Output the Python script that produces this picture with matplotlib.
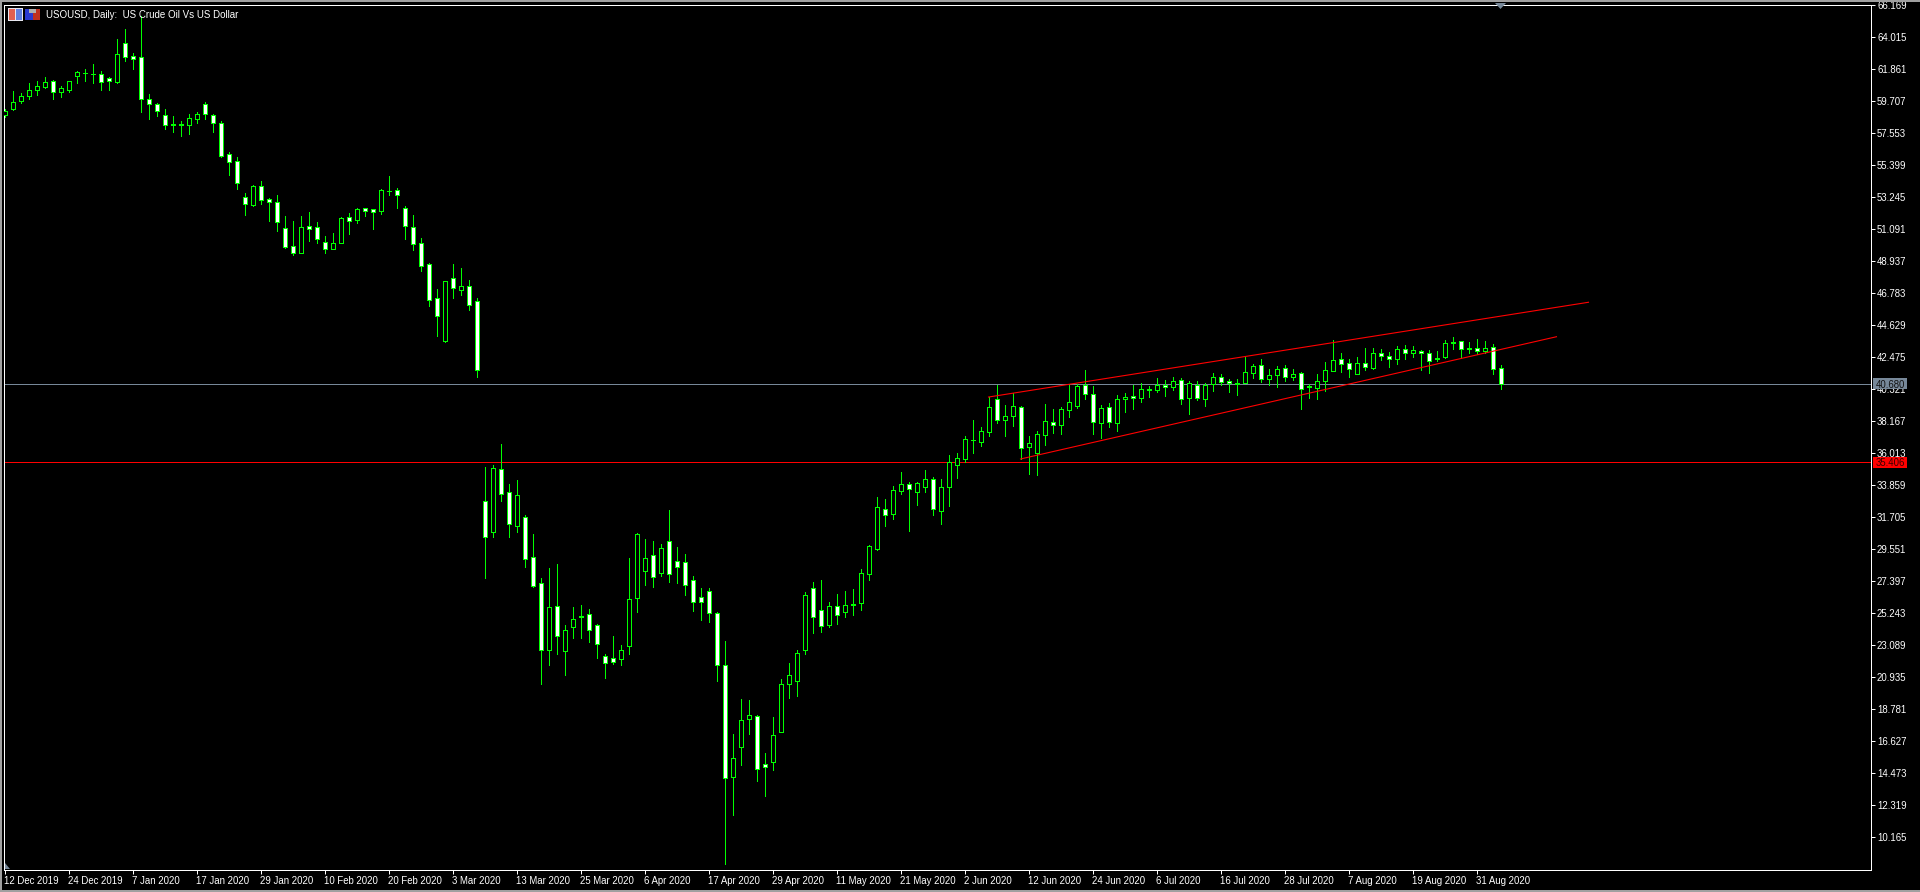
import matplotlib
matplotlib.use("Agg")
import matplotlib.pyplot as plt
from matplotlib.patches import Rectangle, Polygon
from matplotlib.transforms import IdentityTransform
import numpy as np

opens = [58.77,59.17,59.71,60.04,60.45,60.65,61.05,60.31,60.45,61.39,
61.59,61.52,61.52,61.26,60.99,63.61,62.74,62.67,59.84,59.51,
58.77,58.16,58.16,58.09,58.50,59.51,58.77,58.23,56.14,55.67,
53.25,52.71,53.99,53.11,52.91,51.16,49.95,49.48,51.29,51.23,
50.22,49.75,50.15,51.90,51.70,52.50,52.44,52.30,53.65,53.71,
52.50,51.23,50.15,48.73,46.45,43.55,47.79,46.99,47.25,46.25,
32.78,30.70,34.94,33.39,31.10,31.71,29.01,27.26,22.75,25.71,
22.69,24.30,25.04,25.18,24.44,22.35,22.21,22.15,23.02,26.25,
28.07,29.15,27.94,30.09,28.74,28.67,27.46,26.32,26.72,25.24,
21.74,14.20,16.22,18.11,18.31,15.08,15.21,17.23,20.46,20.66,
22.75,26.93,25.44,24.44,25.71,25.31,25.85,25.92,27.87,29.55,
32.24,31.91,33.46,33.93,33.39,33.72,34.26,32.11,33.72,35.21,
35.60,36.89,36.75,37.43,39.65,38.23,38.50,39.11,36.42,36.01,
37.22,38.10,37.90,38.91,39.18,40.59,39.98,38.03,39.11,38.03,
39.65,39.85,39.72,40.32,40.25,40.59,40.45,40.93,39.72,40.59,
39.65,40.66,41.13,40.86,40.73,40.73,41.40,41.94,40.99,41.26,
41.73,41.13,41.40,40.52,40.39,40.86,41.53,42.34,42.07,41.33,
42.07,41.73,42.74,42.54,42.34,43.01,42.74,42.88,42.74,42.41,
42.48,43.48,43.55,43.08,43.08,42.88,43.15,41.73]

highs = [59.17,60.38,60.25,60.92,61.05,61.32,61.12,60.72,61.05,61.73,
61.86,62.20,61.73,61.32,63.88,64.55,62.94,65.43,60.18,59.57,
59.17,58.70,58.36,58.83,58.97,59.64,58.83,58.36,56.27,55.94,
53.51,54.05,54.32,53.18,53.38,51.97,51.63,51.97,52.24,51.56,
50.62,50.82,51.90,52.17,52.50,52.50,52.44,53.78,54.66,53.85,
52.64,52.03,50.49,48.80,47.05,47.59,48.73,48.47,47.66,46.45,
35.07,35.21,36.62,33.93,34.20,31.84,30.56,27.60,28.27,28.54,
24.44,25.65,25.78,25.51,24.50,22.48,23.70,23.09,28.95,30.63,
30.23,30.09,29.89,32.18,29.69,29.21,27.73,26.93,26.93,25.31,
23.36,17.10,19.45,19.39,18.38,15.82,18.24,20.80,21.88,22.75,
26.66,27.33,27.46,25.98,26.52,26.72,26.86,28.20,29.82,33.05,
32.92,33.79,34.73,34.06,34.06,34.87,34.40,34.26,35.88,36.01,
37.16,38.23,37.76,39.78,40.59,39.24,40.05,39.18,37.16,37.49,
39.31,38.97,39.11,40.59,40.66,41.60,40.52,39.24,39.38,39.92,
40.05,40.59,40.73,40.52,41.06,40.93,41.13,41.06,40.86,40.86,
40.73,41.40,41.33,40.99,40.99,42.48,42.00,42.34,41.67,41.87,
41.94,41.67,41.47,40.66,41.33,42.14,43.62,42.74,42.34,42.48,
43.08,43.08,43.01,42.81,43.21,43.28,43.21,42.95,42.95,42.88,
43.62,43.82,43.55,43.48,43.69,43.55,43.35,41.94]

lows = [58.63,59.10,59.57,59.84,60.11,60.58,59.84,59.98,60.31,60.92,
61.05,60.92,60.45,60.45,60.92,62.40,61.86,58.97,58.50,58.70,
57.82,57.62,57.35,57.49,58.23,58.50,57.62,55.94,54.73,53.78,
52.03,52.64,52.77,51.63,50.96,49.81,49.34,49.48,50.28,50.15,
49.48,49.75,50.15,50.75,51.49,51.97,51.09,52.10,53.38,52.50,
50.42,49.68,48.26,45.91,43.89,43.48,46.45,46.65,45.64,41.13,
27.60,30.36,32.78,30.36,30.70,28.34,27.02,20.46,21.74,22.48,
21.07,23.56,23.56,23.29,22.21,20.87,21.81,21.74,22.48,25.31,
27.13,27.02,27.73,27.33,27.26,26.46,25.38,24.77,24.64,20.66,
8.35,11.65,15.01,17.10,13.93,12.92,14.67,17.23,19.52,19.66,
22.48,23.90,23.96,24.30,24.50,24.97,25.11,25.44,27.46,29.48,
31.10,31.57,33.25,30.76,32.51,33.39,31.84,31.23,32.45,34.33,
35.41,36.01,36.48,37.16,38.03,37.16,37.83,35.60,34.60,34.53,
36.55,37.36,37.29,38.44,39.04,39.65,37.29,37.02,37.76,37.49,
38.77,38.97,39.45,39.78,40.12,39.85,40.25,39.31,38.64,39.58,
39.18,40.19,40.59,40.12,39.92,40.73,41.06,40.79,40.59,40.46,
40.86,40.93,38.97,39.72,39.65,40.19,41.53,41.47,41.13,41.33,
41.60,41.67,42.27,41.80,42.00,42.34,42.48,41.60,41.40,42.21,
42.41,43.01,42.41,42.74,42.68,42.74,41.33,40.32]

closes = [59.03,59.64,60.04,60.45,60.72,60.99,60.31,60.58,61.05,61.66,
61.56,61.50,60.99,61.05,62.87,62.67,62.53,59.84,59.51,59.03,
58.09,58.09,58.09,58.56,58.83,58.83,58.23,56.00,55.60,54.19,
52.77,53.99,53.04,52.91,51.56,49.88,49.48,51.23,51.09,50.42,
49.75,50.15,51.83,51.63,52.44,52.30,52.24,53.71,53.62,53.38,
51.29,50.08,48.60,46.31,45.23,47.59,47.12,47.25,45.98,41.60,
30.36,35.01,33.25,31.23,33.19,28.88,27.06,22.75,25.65,23.70,
24.10,24.84,24.97,24.10,23.16,21.88,21.95,22.75,26.18,30.56,
28.95,27.67,29.62,27.87,28.34,27.13,25.98,25.98,25.24,21.74,
14.14,15.48,18.04,18.38,14.74,14.88,17.03,20.46,21.07,22.55,
26.45,24.97,24.37,25.71,25.11,25.78,25.78,27.94,29.75,32.38,
31.84,33.52,33.93,33.59,33.99,34.26,32.24,33.72,35.41,35.68,
36.96,36.86,37.49,39.11,38.23,38.50,39.18,36.35,36.69,37.29,
38.17,37.90,38.97,39.45,40.52,39.98,38.10,39.04,38.10,39.65,
39.78,39.72,40.32,40.25,40.59,40.45,40.86,39.65,40.73,39.72,
40.59,41.13,40.79,40.73,40.66,41.47,41.87,40.99,41.26,41.67,
41.13,41.33,40.32,40.45,40.86,41.60,42.27,42.00,41.67,42.07,
41.80,42.74,42.54,42.34,43.01,42.74,42.95,42.74,42.21,42.34,
43.42,43.42,43.01,43.01,42.88,43.08,41.67,40.68]

tick_dates = ["12 Dec 2019","24 Dec 2019","7 Jan 2020","17 Jan 2020","29 Jan 2020","10 Feb 2020",
              "20 Feb 2020","3 Mar 2020","13 Mar 2020","25 Mar 2020","6 Apr 2020","17 Apr 2020",
              "29 Apr 2020","11 May 2020","21 May 2020","2 Jun 2020","12 Jun 2020","24 Jun 2020",
              "6 Jul 2020","16 Jul 2020","28 Jul 2020","7 Aug 2020","19 Aug 2020","31 Aug 2020"]
price_ticks = [66.169,64.015,61.861,59.707,57.553,55.399,53.245,51.091,48.937,46.783,44.629,42.475,
               40.321,38.167,36.013,33.859,31.705,29.551,27.397,25.243,23.089,20.935,18.781,16.627,
               14.473,12.319,10.165]
bid_price = 40.680
support_price = 35.406
upper_channel_bars = [123, 198]
upper_channel_prices = [39.78, 46.16]
lower_channel_bars = [127, 194]
lower_channel_prices = [35.61, 43.84]

W, H = 1920, 892
GREEN = "#00ff00"
SLATE = "#778899"
plt.rcParams["font.family"] = ["Liberation Sans", "DejaVu Sans"]

fig = plt.figure(figsize=(W / 100, H / 100), dpi=100, facecolor="black")
L, R, T, B = 3.5, 1870.5, 4.5, 869.5
ax = fig.add_axes([L / W, 1 - B / H, (R - L) / W, (B - T) / H], facecolor="black")

to_bar = lambda px: (px - 4.5) / 8
to_price = lambda py: 66.506 - 0.067313 * py
ax.set_xlim(to_bar(L), to_bar(R))
ax.set_ylim(to_price(B), to_price(T))

O, Hi, Lo, C = map(np.array, (opens, highs, lows, closes))
xs = np.arange(len(O))
ax.vlines(xs, Lo, Hi, color=GREEN, linewidth=0.72, antialiased=False, zorder=3)
bear = C <= O
body_bottom = np.minimum(O, C)
body_height = np.abs(O - C)
ax.bar(xs[bear], body_height[bear], bottom=body_bottom[bear], width=0.5, facecolor="white",
       edgecolor=GREEN, linewidth=0.72, antialiased=False, zorder=4)
ax.bar(xs[~bear], body_height[~bear], bottom=body_bottom[~bear], width=0.5, facecolor="black",
       edgecolor=GREEN, linewidth=0.72, antialiased=False, zorder=4)

ax.axhline(bid_price, color=SLATE, linewidth=0.72, antialiased=False, zorder=2)
ax.axhline(support_price, color="#ff0000", linewidth=0.72, antialiased=False, zorder=2)
ax.plot(upper_channel_bars, upper_channel_prices, color="#ff0000", linewidth=0.8, zorder=5)
ax.plot(lower_channel_bars, lower_channel_prices, color="#ff0000", linewidth=0.8, zorder=5)

for s in ax.spines.values():
    s.set_color("white")
    s.set_linewidth(0.72)

ax.yaxis.tick_right()
ax.set_yticks(price_ticks)
ax.set_yticklabels([f"{p:.3f}" for p in price_ticks])
ax.tick_params(axis="y", colors="white", length=3.2, width=0.72, pad=1.5, labelsize=6.9)
ax.set_xticks(np.arange(len(tick_dates)) * 8)
ax.set_xticklabels(tick_dates, ha="left")
ax.tick_params(axis="x", colors="white", length=3, width=0.72, pad=1.5, labelsize=6.9)

idt = IdentityTransform()
def box(x0, y0, x1, y1, color, z=6):
    fig.add_artist(Rectangle((x0, H - y1), x1 - x0, y1 - y0, transform=idt, facecolor=color,
                             edgecolor="none", antialiased=False, zorder=z))

# window border
box(0, 0, W, 2, "#a0a0a0")
box(0, 0, 2, H, "#a0a0a0")
box(0, 890, W, H, "#a0a0a0")

# price tags
y_bid = ax.transData.transform((0, bid_price))[1]
y_sup = ax.transData.transform((0, support_price))[1]
box(1873, H - y_bid - 5.5, 1907, H - y_bid + 5.5, SLATE)
box(1873, H - y_sup - 5.5, 1907, H - y_sup + 5.5, "#ff0000")
fig.text(1876 / W, y_bid / H, f"{bid_price:.3f}", color="#111111", va="center_baseline", ha="left", fontsize=6.9, zorder=7)
fig.text(1876 / W, y_sup / H, f"{support_price:.3f}", color="#3a0000", va="center_baseline", ha="left", fontsize=6.9, zorder=7)

# chart title + toolbar icons
fig.text(46 / W, 1 - 14.5 / H, "USOUSD, Daily:  US Crude Oil Vs US Dollar", color="white", fontsize=7,
         va="center_baseline", ha="left", zorder=7)
box(8, 8, 23, 21, "#e8e8f0", 7)
box(9, 9, 15, 20, "#e06050", 8)
box(16, 9, 22, 20, "#6080e0", 8)
box(25, 9, 33, 20, "#2a3ad0", 7)
box(33, 9, 40, 20, "#c03020", 7)
box(29, 9, 36, 13, "#b0b0b0", 8)

# chart-shift markers
fig.add_artist(Polygon([(1495, H - 3), (1506, H - 3), (1500.5, H - 9)], closed=True, transform=idt,
                       facecolor=SLATE, edgecolor="none", zorder=7))
fig.add_artist(Polygon([(5, H - 863), (5, H - 869), (10, H - 869)], closed=True, transform=idt,
                       facecolor=SLATE, edgecolor="none", zorder=7))

fig.savefig("out.png", dpi=100, facecolor="black")
